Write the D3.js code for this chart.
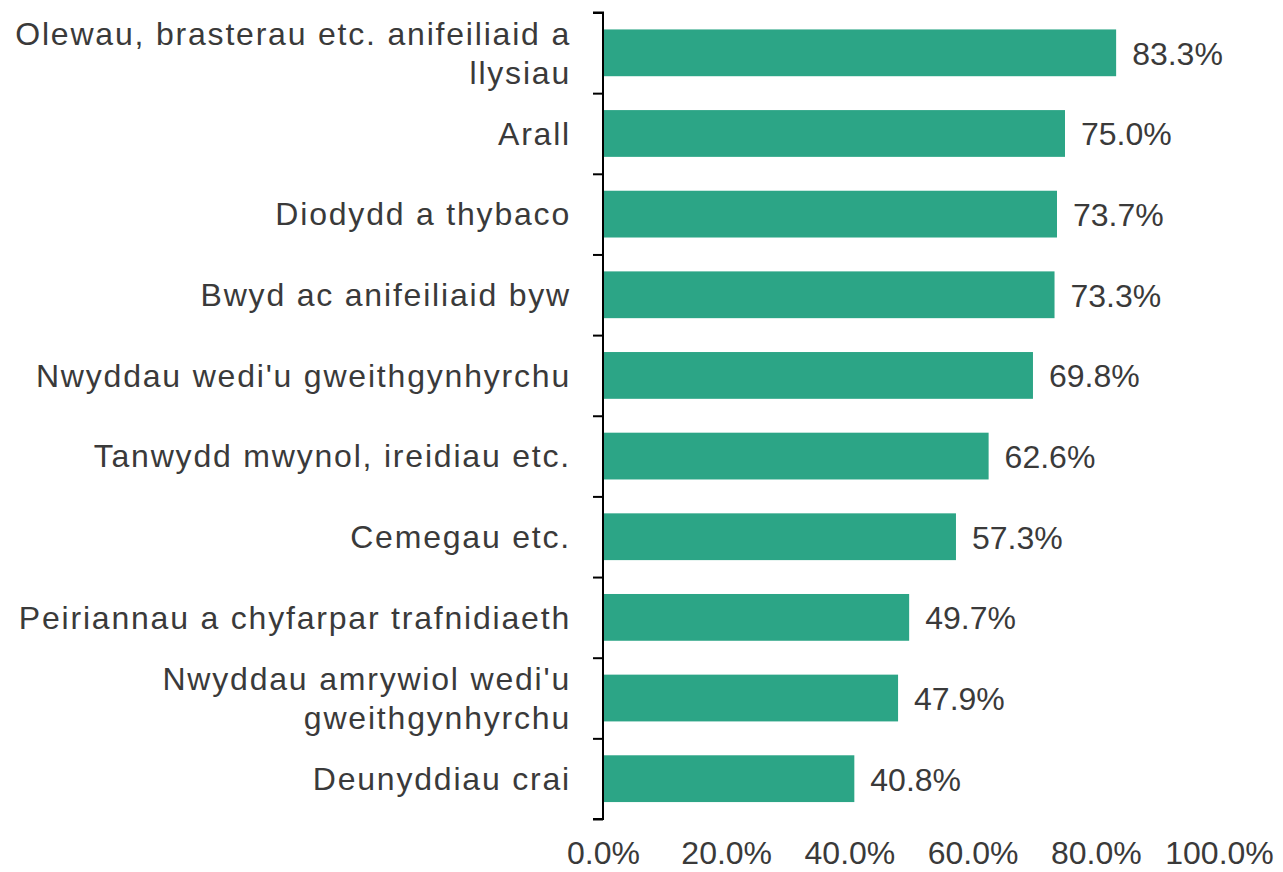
<!DOCTYPE html>
<html><head><meta charset="utf-8">
<script src="https://cdn.jsdelivr.net/npm/d3@7"></script>
<style>body{margin:0;background:#fff}text{font-family:"Liberation Sans",Arial,sans-serif}</style>
</head><body><svg id="c" width="1283" height="872"></svg>
<script>
const categories = [
  ["Olewau, brasterau etc. anifeiliaid a","llysiau"],
  ["Arall"],
  ["Diodydd a thybaco"],
  ["Bwyd ac anifeiliaid byw"],
  ["Nwyddau wedi'u gweithgynhyrchu"],
  ["Tanwydd mwynol, ireidiau etc."],
  ["Cemegau etc."],
  ["Peiriannau a chyfarpar trafnidiaeth"],
  ["Nwyddau amrywiol wedi'u","gweithgynhyrchu"],
  ["Deunyddiau crai"]
];
const values = [83.3, 75.0, 73.7, 73.3, 69.8, 62.6, 57.3, 49.7, 47.9, 40.8];
const xTicks = [0, 20, 40, 60, 80, 100];

const svg = d3.select("#c");
const mLeft = 603, mRight = 1219, mTop = 12.5, mBottom = 819;
const color = "#2ca586", textColor = "#3a3a3a", fs = 32;

const x = d3.scaleLinear().domain([0, 100]).range([mLeft, mRight]);
const y = d3.scaleBand().domain(categories.map((d,i)=>i)).range([mTop, mBottom]).paddingInner(0.42).paddingOuter(0.21);
const yTicks = d3.scaleLinear().domain([0, categories.length]).range([mTop, mBottom]);

// bars
svg.selectAll("rect.bar").data(values).join("rect")
  .attr("x", x(0)).attr("y", (d,i)=>y(i))
  .attr("width", d=>x(d)-x(0)).attr("height", y.bandwidth())
  .attr("fill", color);

// value labels
svg.selectAll("text.val").data(values).join("text")
  .attr("x", d=>x(d)+16).attr("y", (d,i)=>y(i)+y.bandwidth()/2)
  .attr("dy","0.37em").attr("font-size", fs).attr("fill", textColor)
  .text(d=>d.toFixed(1)+"%");

// y axis line and boundary ticks
const yAxis = d3.axisLeft(yTicks).tickValues(d3.range(categories.length+1)).tickSize(10).tickFormat("");
const gy = svg.append("g").attr("transform", `translate(${mLeft},0)`).call(yAxis);
gy.select(".domain").attr("stroke","#000").attr("stroke-width",2).attr("d", `M-10,${mTop}H0V${mBottom}H-10`);
gy.selectAll(".tick line").attr("stroke","#000").attr("stroke-width",2);

// category labels
const lh = 39;
categories.forEach((lines,i)=>{
  const cy = y(i)+y.bandwidth()/2;
  const t = svg.append("text").attr("text-anchor","end").attr("font-size", fs)
    .attr("letter-spacing", "1.8px").attr("fill", textColor);
  lines.forEach((ln,j)=>{
    t.append("tspan").attr("x", 571).attr("y", cy + (j-(lines.length-1)/2)*lh).attr("dy","0.35em").text(ln);
  });
});

// x axis labels
const xAxis = d3.axisBottom(x).tickValues(xTicks).tickSize(0).tickPadding(0).tickFormat(d=>d.toFixed(1)+"%");
const gx = svg.append("g").attr("transform", `translate(0,864)`).call(xAxis);
gx.select(".domain").remove();
gx.selectAll("text").attr("font-size", fs).attr("fill", textColor)
  .attr("font-family","Liberation Sans, Arial, sans-serif").attr("dy","0").attr("y",0);
</script></body></html>
